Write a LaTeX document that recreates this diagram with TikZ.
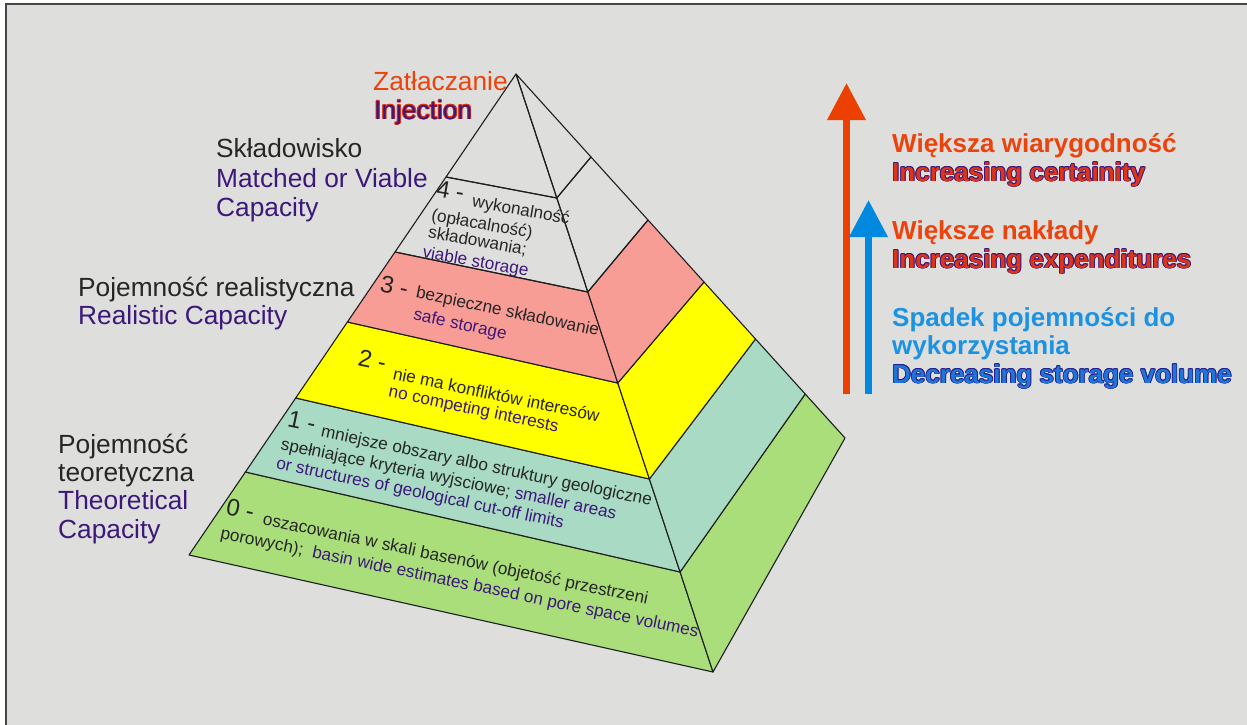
\documentclass[tikz,border=0pt]{standalone}
\usepackage{fontspec}
\setmainfont{Liberation Sans}
\usetikzlibrary{arrows.meta,calc}

\definecolor{bgc}{RGB}{222,222,220}
\definecolor{framec}{RGB}{70,70,70}
\definecolor{edgec}{RGB}{30,30,30}
\definecolor{tdark}{RGB}{38,38,38}
\definecolor{tpurple}{RGB}{60,24,122}
\definecolor{torange}{RGB}{236,66,12}
\definecolor{tred}{RGB}{222,52,24}
\definecolor{tblue}{RGB}{28,146,226}
\definecolor{tbluefill}{RGB}{30,118,218}
\definecolor{tbluedark}{RGB}{40,32,140}
\definecolor{arrred}{RGB}{235,64,0}
\definecolor{arrblue}{RGB}{0,137,222}
\definecolor{lay0}{RGB}{170,222,122}
\definecolor{lay1}{RGB}{168,218,196}
\definecolor{lay2}{RGB}{255,255,0}
\definecolor{lay3}{RGB}{248,156,150}

% text with a thin coloured rim: shifted copies in the rim colour under the fill
\newcommand\rimcopy[4]{\rlap{\kern#2\raisebox{#3}{\textcolor{#1}{#4}}}}
\newcommand\rimtext[3]{% rim colour, fill colour, text
  \leavevmode
  \rimcopy{#1}{-0.9pt}{0pt}{#3}\rimcopy{#1}{0.9pt}{0pt}{#3}%
  \rimcopy{#1}{0pt}{0.9pt}{#3}\rimcopy{#1}{0pt}{-0.9pt}{#3}%
  \rimcopy{#1}{-0.65pt}{0.65pt}{#3}\rimcopy{#1}{0.65pt}{0.65pt}{#3}%
  \rimcopy{#1}{-0.65pt}{-0.65pt}{#3}\rimcopy{#1}{0.65pt}{-0.65pt}{#3}%
  \textcolor{#2}{#3}}

\begin{document}
\begin{tikzpicture}[x=1pt,y=-1pt,
  edge/.style={draw=edgec, line width=1.1pt, line join=round},
  lbl/.style={font=\fontsize{26.3}{30}\selectfont, anchor=base west, inner sep=0pt},
  rlbl/.style={font=\fontsize{26}{30}\selectfont\bfseries, anchor=base west, inner sep=0pt},
  ptxt/.style={font=\fontsize{17.2}{20}\selectfont, inner sep=0pt, text=tdark},
  pnum/.style={font=\fontsize{24}{28}\selectfont, inner sep=0pt, text=tdark},
  uparrow/.style={line width=7pt, -{Triangle[width=37pt,length=37pt]}}]

\useasboundingbox (0,0) rectangle (1247,725);
\fill[white] (0,0) rectangle (1247,725);
\fill[bgc] (6,4) rectangle (1247,725);
\draw[framec, line width=1.5pt] (6,725) -- (6,4) -- (1247,4);

% pyramid corners: apex, left edge (L), front ridge (M), right edge (R)
\coordinate (A) at (516,74);
\coordinate (L0) at (189,555);   \coordinate (M0) at (713,672);   \coordinate (R0) at (845,438);
\coordinate (L1) at (245.4,472); \coordinate (M1) at (680.1,572); \coordinate (R1) at (805.2,394);
\coordinate (L2) at (295.7,398); \coordinate (M2) at (649.4,479); \coordinate (R2) at (755.5,339);
\coordinate (L3) at (347.4,322); \coordinate (M3) at (617.8,383); \coordinate (R3) at (704,282);
\coordinate (L4) at (395,252);   \coordinate (M4) at (587.8,292); \coordinate (R4) at (648,220);
\coordinate (L5) at (446,177);   \coordinate (M5) at (556.8,198); \coordinate (R5) at (591,157);

% layers, front face and right face
\filldraw[edge, fill=lay0] (L1) -- (M1) -- (M0) -- (L0) -- cycle;
\filldraw[edge, fill=lay0] (M1) -- (R1) -- (R0) -- (M0) -- cycle;
\filldraw[edge, fill=lay1] (L2) -- (M2) -- (M1) -- (L1) -- cycle;
\filldraw[edge, fill=lay1] (M2) -- (R2) -- (R1) -- (M1) -- cycle;
\filldraw[edge, fill=lay2] (L3) -- (M3) -- (M2) -- (L2) -- cycle;
\filldraw[edge, fill=lay2] (M3) -- (R3) -- (R2) -- (M2) -- cycle;
\filldraw[edge, fill=lay3] (L4) -- (M4) -- (M3) -- (L3) -- cycle;
\filldraw[edge, fill=lay3] (M4) -- (R4) -- (R3) -- (M3) -- cycle;
\draw[edge] (L5) -- (M5) -- (M4) -- (L4) -- cycle;
\draw[edge] (M5) -- (R5) -- (R4) -- (M4) -- cycle;
\draw[edge] (A) -- (L5) -- (M5) -- cycle;
\draw[edge] (A) -- (M5) -- (R5) -- cycle;

% layer 4
\node[pnum, rotate=-10] (n4) at (450.5,190.5) {4 -};
\node[ptxt, rotate=-10] (t4a) at (521,211) {wykonalność};
\node[ptxt, rotate=-10] (t4b) at (482,225) {(opłacalność)};
\node[ptxt, rotate=-10] (t4c) at (477.5,241.5) {składowania;};
\node[ptxt, rotate=-10, text=tpurple] (t4d) at (475.5,262.5) {viable storage};
% layer 3
\node[pnum, rotate=-11.8] (n3) at (394.5,286.5) {3 -};
\node[ptxt, rotate=-11.8] (t3a) at (507.5,312.5) {bezpieczne składowanie};
\node[ptxt, rotate=-11.8, text=tpurple] (t3b) at (460,325) {safe storage};
% layer 2
\node[pnum, rotate=-11.8] (n2) at (372.5,360.5) {2 -};
\node[ptxt, rotate=-11.8] (t2a) at (496.5,394.5) {nie ma konfliktów interesów};
\node[ptxt, rotate=-11.8, text=tpurple] (t2b) at (473.5,410) {no competing interests};
% layer 1
\node[pnum, rotate=-11.8] (n1) at (302,421) {1 -};
\node[ptxt, rotate=-11.8] (t1a) at (486.5,467) {mniejsze obszary albo struktury geologiczne};
\node[ptxt, rotate=-11.8] (t1b) at (448.5,480) {spełniające kryteria wyjsciowe; \textcolor{tpurple}{smaller areas}};
\node[ptxt, rotate=-11.8, text=tpurple] (t1c) at (420,494) {or structures of geological cut-off limits};
% layer 0
\node[pnum, rotate=-11.8] (n0) at (240.5,509) {0 -};
\node[ptxt, rotate=-11.7] (t0a) at (455.5,560) {oszacowania w skali basenów (objetość przestrzeni};
\node[ptxt, rotate=-11.7] (t0b) at (459.5,583.5) {porowych);\ \ \textcolor{tpurple}{basin wide estimates based on pore space volumes}};

% captions on the left
\node[lbl, text=torange] (zat) at (373,90) {Zatłaczanie};
\node[lbl] (inj) at (374,119) {\rimtext{tred}{tpurple}{Injection}};
\node[lbl, text=tdark] (skl) at (216,157) {Składowisko};
\node[lbl, text=tpurple] (mat) at (216,187) {Matched or Viable};
\node[lbl, text=tpurple] (mcap) at (216,216) {Capacity};
\node[lbl, text=tdark] (preal) at (78,296) {Pojemność realistyczna};
\node[lbl, text=tpurple] (real) at (78,324) {Realistic Capacity};
\node[lbl, text=tdark] (pteo) at (58,453) {Pojemność};
\node[lbl, text=tdark] (teor) at (58,481) {teoretyczna};
\node[lbl, text=tpurple] (theo) at (58,509) {Theoretical};
\node[lbl, text=tpurple] (tcap) at (58,538) {Capacity};

% trend arrows
\coordinate (redbase) at (846.5,394);
\coordinate (redtip) at (846.5,83);
\coordinate (bluebase) at (868.5,394);
\coordinate (bluetip) at (868.5,200);
\draw[uparrow, draw=arrred, fill=arrred] (redbase) -- (redtip);
\draw[uparrow, draw=arrblue, fill=arrblue] (bluebase) -- (bluetip);

% captions on the right
\node[rlbl, text=torange] (wiar) at (892,152) {Większa wiarygodność};
\node[rlbl] (cert) at (892,181) {\rimtext{tpurple}{tred}{Increasing certainity}};
\node[rlbl, text=torange] (nakl) at (892,239) {Większe nakłady};
\node[rlbl] (expd) at (892,268) {\rimtext{tpurple}{tred}{Increasing expenditures}};
\node[rlbl, text=tblue] (spad) at (892,326) {Spadek pojemności do};
\node[rlbl, text=tblue] (wyko) at (892,354) {wykorzystania};
\node[rlbl] (decr) at (892,383) {\rimtext{tbluedark}{tbluefill}{Decreasing storage volume}};

\end{tikzpicture}
\end{document}
